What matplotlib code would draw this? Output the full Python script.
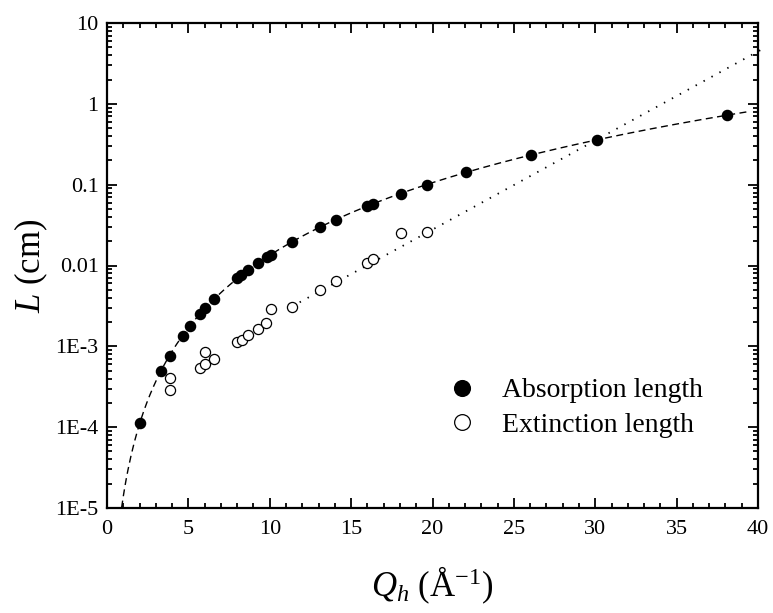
import numpy as np
import matplotlib.pyplot as plt
from matplotlib.ticker import FixedLocator, LogLocator, MultipleLocator, NullFormatter

plt.rcParams['font.family'] = ['Liberation Serif', 'DejaVu Serif']
plt.rcParams['mathtext.fontset'] = 'custom'
plt.rcParams['mathtext.rm'] = 'Liberation Serif'
plt.rcParams['mathtext.it'] = 'Liberation Serif:italic'

# absorption length (filled circles)
abs_q = [2.0, 3.3, 3.85, 4.65, 5.1, 5.7, 6.05, 6.6, 8.0, 8.25, 8.65, 9.3, 9.85,
         10.05, 11.35, 13.1, 14.05, 16.0, 16.35, 18.05, 19.65, 22.05, 26.05, 30.1, 38.1]
abs_L = [1.12e-4, 4.9e-4, 7.7e-4, 1.35e-3, 1.77e-3, 2.5e-3, 2.94e-3, 3.8e-3, 7.0e-3,
         7.7e-3, 8.9e-3, 1.07e-2, 1.27e-2, 1.36e-2, 1.95e-2, 2.99e-2, 3.68e-2, 5.5e-2,
         5.8e-2, 7.7e-2, 0.100, 0.142, 0.235, 0.36, 0.72]

# extinction length (open circles)
ext_q = [3.85, 3.85, 5.7, 6.05, 6.05, 6.6, 8.0, 8.3, 8.65, 9.3, 9.8, 10.05, 11.35,
         13.1, 14.05, 16.0, 16.35, 18.05, 19.65]
ext_L = [4.06e-4, 2.9e-4, 5.4e-4, 6.0e-4, 8.5e-4, 7.0e-4, 1.12e-3, 1.21e-3, 1.39e-3,
         1.64e-3, 1.94e-3, 2.9e-3, 3.06e-3, 5.0e-3, 6.5e-3, 1.07e-2, 1.21e-2, 2.52e-2, 2.6e-2]

# dotted trend line for extinction length (ends)
ext_fit_q = [11.35, 40.3]
ext_fit_L = [3.1e-3, 4.8]

# range of the dashed power-law fit
abs_fit_range = [0.9, 39.4]

ytick_vals = [1e-5, 1e-4, 1e-3, 1e-2, 1e-1, 1, 10]
ytick_labels = ['1E-5', '1E-4', '1E-3', '0.01', '0.1', '1', '10']

fig = plt.figure(figsize=(7.73, 6.13), dpi=100)
ax = fig.add_axes([107/773, 105/613, 651/773, 485/613])

# power law fit of the absorption data, L ~ Q^n
p = np.polyfit(np.log10(abs_q), np.log10(abs_L), 1)
qq = np.linspace(abs_fit_range[0], abs_fit_range[1], 400)
ax.plot(qq, 10**np.polyval(p, np.log10(qq)), color='black', lw=1.0,
        linestyle=(0, (5, 3.2)))
ax.plot(ext_fit_q, ext_fit_L, color='black', lw=1.3, linestyle=(0, (0.8, 4.2)),
        clip_on=False)

ax.plot(abs_q, abs_L, 'o', color='black', markersize=7.3, linestyle='none',
        label='Absorption length')
ax.plot(ext_q, ext_L, 'o', mfc='white', mec='black', mew=0.9, markersize=7.3,
        linestyle='none', label='Extinction length')

ax.set_yscale('log')
ax.set_xlim(0, 40)
ax.set_ylim(1e-5, 10)

ax.xaxis.set_major_locator(MultipleLocator(5))
ax.xaxis.set_minor_locator(MultipleLocator(1))
ax.yaxis.set_major_locator(FixedLocator(ytick_vals))
ax.set_yticklabels(ytick_labels)
ax.yaxis.set_minor_locator(LogLocator(base=10, subs=np.arange(2, 10)))
ax.yaxis.set_minor_formatter(NullFormatter())

ax.tick_params(which='both', direction='in', top=True, right=True, width=1.3,
               labelsize=16, colors='black')
ax.tick_params(which='major', length=7)
ax.tick_params(which='minor', length=3.5)
ax.tick_params(axis='x', which='major', pad=9)
ax.tick_params(axis='y', which='major', pad=6)
for s in ax.spines.values():
    s.set_linewidth(1.6)

ax.set_xlabel(r'$Q_h$ (Å$^{-1}$)', fontsize=25, labelpad=18)
ax.set_ylabel(r'$L$ (cm)', fontsize=25, labelpad=4)

ax.legend(loc='upper left', bbox_to_anchor=(0.485, 0.32), frameon=False,
          fontsize=20, handlelength=1.0, handletextpad=0.95, labelspacing=0.32,
          markerscale=1.55)

plt.savefig('out.png', dpi=100)
